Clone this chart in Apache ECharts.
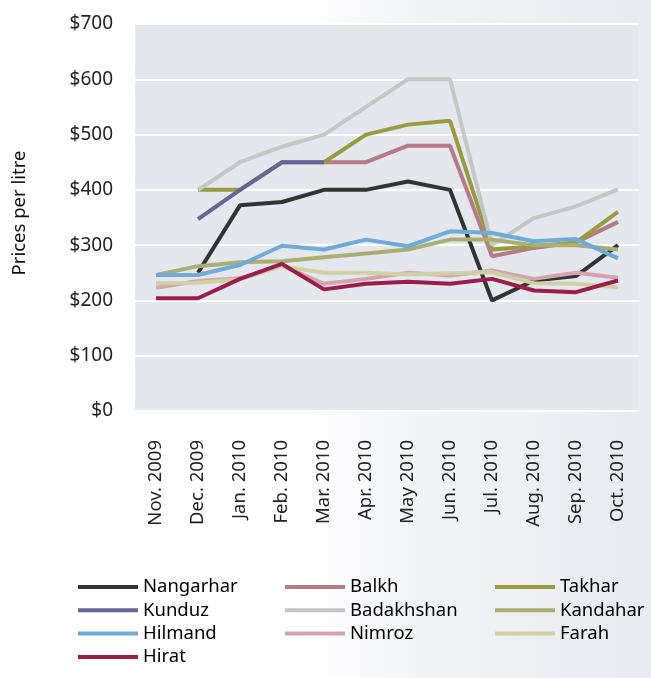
<!DOCTYPE html>
<html>
<head>
<meta charset="utf-8">
<script src="https://cdn.jsdelivr.net/npm/echarts@6/dist/echarts.min.js"></script>
<style>
  html, body { margin: 0; padding: 0; background: #fff; }
  #chart { width: 651px; height: 678px; }
</style>
</head>
<body>
<div id="chart"></div>
<script>
// Monthly fuel prices per litre by province
const months = ['Nov. 2009', 'Dec. 2009', 'Jan. 2010', 'Feb. 2010', 'Mar. 2010', 'Apr. 2010',
                'May 2010', 'Jun. 2010', 'Jul. 2010', 'Aug. 2010', 'Sep. 2010', 'Oct. 2010'];
const yTicks = [0, 100, 200, 300, 400, 500, 600, 700];

const nangarhar  = [null, 250, 372, 378, 400, 400, 415, 400, 200, 236, 244, 300];
const balkh      = [null, null, null, null, 450, 450, 480, 480, 280, 295, 305, 342];
const takhar     = [null, 400, 400, 450, 450, 500, 518, 525, 292, 298, 305, 360];
const kunduz     = [null, 347, 400, 450, 450, null, null, null, null, null, null, null];
const badakhshan = [null, 400, 450, 478, 500, 550, 600, 600, 300, 349, 370, 401];
const kandahar   = [246, 262, 269, 271, 278, 285, 292, 310, 310, 300, 300, 292];
const hilmand    = [246, 246, 264, 299, 292, 310, 298, 325, 322, 307, 311, 276];
const nimroz     = [223, 235, 240, 263, 230, 239, 250, 245, 254, 239, 250, 241];
const farah      = [231, 232, 238, 262, 250, 250, 247, 249, 251, 231, 230, 224];
const hirat      = [204, 204, 239, 266, 220, 230, 234, 230, 239, 218, 215, 236];

const seriesDefs = [
  { name: 'Nangarhar',  data: nangarhar,  color: '#333333' },
  { name: 'Balkh',      data: balkh,      color: '#b87a86' },
  { name: 'Takhar',     data: takhar,     color: '#989c3e' },
  { name: 'Kunduz',     data: kunduz,     color: '#65649b' },
  { name: 'Badakhshan', data: badakhshan, color: '#c6c6c6' },
  { name: 'Kandahar',   data: kandahar,   color: '#abae72' },
  { name: 'Hilmand',    data: hilmand,    color: '#70aad8' },
  { name: 'Nimroz',     data: nimroz,     color: '#d5a3ac' },
  { name: 'Farah',      data: farah,      color: '#d0d1a3' },
  { name: 'Hirat',      data: hirat,      color: '#9c1d4b' }
];

const legendCols = [
  ['Nangarhar', 'Kunduz', 'Hilmand', 'Hirat'],
  ['Balkh', 'Badakhshan', 'Nimroz'],
  ['Takhar', 'Kandahar', 'Farah']
];
const legendLefts = [78, 285, 495];

const FONT = '"Noto Sans", "Open Sans", sans-serif';

const chart = echarts.init(document.getElementById('chart'), null, { renderer: 'canvas' });

chart.setOption({
  animation: false,
  backgroundColor: {
    type: 'linear', x: 0, y: 0, x2: 1, y2: 0,
    colorStops: [
      { offset: 0, color: '#ffffff' },
      { offset: 0.46, color: '#ffffff' },
      { offset: 0.68, color: '#f1f2f6' },
      { offset: 1, color: '#e8eaef' }
    ]
  },
  grid: {
    left: 135, right: 12, top: 24, bottom: 267,
    show: true, backgroundColor: '#e4e7ee', borderWidth: 0
  },
  graphic: [{
    type: 'text',
    x: 20, y: 213, rotation: Math.PI / 2,
    style: {
      text: 'Prices per litre', fill: '#111', font: '18.5px ' + FONT,
      align: 'center', verticalAlign: 'middle'
    }
  }],
  xAxis: {
    type: 'category',
    data: months,
    boundaryGap: true,
    axisLine: { show: false },
    axisTick: { show: false },
    axisLabel: {
      rotate: 90, margin: 29, fontSize: 18.5, color: '#222', fontFamily: FONT, interval: 0
    }
  },
  yAxis: {
    type: 'value',
    min: yTicks[0], max: yTicks[yTicks.length - 1], interval: 100,
    axisLine: { show: false },
    axisTick: { show: false },
    splitLine: { show: true, lineStyle: { color: '#ffffff', width: 2 } },
    axisLabel: {
      margin: 22, fontSize: 19, color: '#222', fontFamily: FONT,
      formatter: v => '$' + v
    }
  },
  legend: legendCols.map((names, i) => ({
    orient: 'vertical',
    left: legendLefts[i], top: 577,
    padding: 0,
    data: names,
    icon: 'rect',
    itemWidth: 60, itemHeight: 4,
    itemGap: 3.3,
    selectedMode: false,
    textStyle: { fontSize: 18.5, color: '#000', fontFamily: FONT, lineHeight: 20 }
  })),
  series: seriesDefs.map(s => ({
    name: s.name,
    type: 'line',
    data: s.data,
    symbol: 'none',
    connectNulls: false,
    color: s.color,
    lineStyle: { color: s.color, width: 4 },
    itemStyle: { color: s.color }
  }))
});
</script>
</body>
</html>
